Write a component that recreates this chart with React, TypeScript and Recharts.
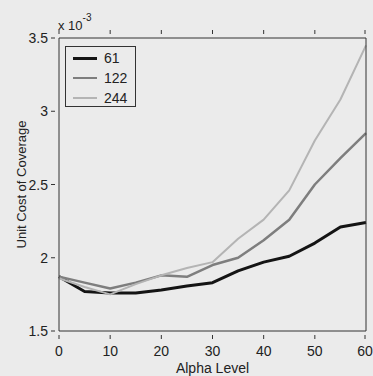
import React from "react";
import { LineChart, Line, XAxis, YAxis, Legend } from "recharts";

const alpha = [0, 5, 10, 15, 20, 25, 30, 35, 40, 45, 50, 55, 60];
const s61 = [1.871, 1.77, 1.76, 1.76, 1.78, 1.807, 1.83, 1.91, 1.97, 2.01, 2.1, 2.21, 2.24];
const s122 = [1.871, 1.83, 1.79, 1.83, 1.88, 1.87, 1.95, 2.0, 2.12, 2.26, 2.5, 2.68, 2.85];
const s244 = [1.86, 1.8, 1.75, 1.82, 1.88, 1.93, 1.97, 2.13, 2.26, 2.46, 2.8, 3.08, 3.45];
const seriesNames = ["61", "122", "244"];
const seriesColors = ["#141414", "#7e7e7e", "#b4b4b4"];
const seriesWidths = [3, 2.5, 2];
const xTicks = [0, 10, 20, 30, 40, 50, 60];
const yTicks = [1.5, 2, 2.5, 3, 3.5];

const data = alpha.map((a, i) => ({ a, s61: s61[i], s122: s122[i], s244: s244[i] }));
const keys = ["s61", "s122", "s244"];

const FONT = "'Liberation Sans', Arial, sans-serif";
const AXIS = "#333";

const BottomTick = (p: any) => {
  const { x, y, payload } = p;
  return (
    <g>
      <line x1={x} x2={x} y1={y} y2={y - 4} stroke={AXIS} strokeWidth={1} />
      <text x={x} y={y + 17} textAnchor="middle" fontSize={14} fill="#222" fontFamily={FONT}>
        {payload.value}
      </text>
    </g>
  );
};
const TopTick = (p: any) => {
  const { x, y } = p;
  return <line x1={x} x2={x} y1={y} y2={y + 4} stroke={AXIS} strokeWidth={1} />;
};
const LeftTick = (p: any) => {
  const { x, y, payload } = p;
  return (
    <g>
      <line x1={x} x2={x + 4} y1={y} y2={y} stroke={AXIS} strokeWidth={1} />
      <text x={x - 3} y={y + 5} textAnchor="end" fontSize={14} fill="#222" fontFamily={FONT}>
        {payload.value}
      </text>
    </g>
  );
};
const RightTick = (p: any) => {
  const { x, y } = p;
  return <line x1={x} x2={x - 4} y1={y} y2={y} stroke={AXIS} strokeWidth={1} />;
};

const LegendBox = () => (
  <div
    style={{
      width: 71,
      height: 61,
      border: "1px solid #333",
      background: "#ebebeb",
      boxSizing: "border-box",
      fontFamily: FONT,
      fontSize: 14,
      color: "#222",
      paddingTop: 1,
    }}
  >
    {seriesNames.map((n, i) => (
      <div key={n} style={{ display: "flex", alignItems: "center", height: 20 }}>
        <div
          style={{
            marginLeft: 7,
            width: 24,
            height: seriesWidths[i],
            background: seriesColors[i],
          }}
        />
        <span style={{ marginLeft: 7 }}>{n}</span>
      </div>
    ))}
  </div>
);

export default function App() {
  return (
    <div style={{ position: "absolute", left: 0, top: 0, width: 373, height: 376, background: "#ebebeb" }}>
      <LineChart width={373} height={376} data={data} margin={{ top: 37, right: 6, bottom: 0, left: 0 }}>
        <XAxis
          xAxisId="b"
          dataKey="a"
          type="number"
          domain={[0, 60]}
          ticks={xTicks}
          height={45}
          stroke={AXIS}
          tickLine={false}
          tick={<BottomTick />}
          label={{ value: "Alpha Level", position: "insideBottom", offset: 3, fontSize: 14, fill: "#222", fontFamily: FONT }}
        />
        <XAxis
          xAxisId="t"
          orientation="top"
          dataKey="a"
          type="number"
          domain={[0, 60]}
          ticks={xTicks}
          height={1}
          stroke={AXIS}
          tickLine={false}
          tick={<TopTick />}
        />
        <YAxis
          yAxisId="l"
          type="number"
          domain={[1.5, 3.5]}
          ticks={yTicks}
          width={59}
          stroke={AXIS}
          tickLine={false}
          tick={<LeftTick />}
          label={{
            value: "Unit Cost of Coverage",
            angle: -90,
            position: "insideLeft",
            offset: 21,
            fontSize: 13,
            fill: "#222",
            fontFamily: FONT,
            style: { textAnchor: "middle" },
          }}
        />
        <YAxis
          yAxisId="r"
          orientation="right"
          type="number"
          domain={[1.5, 3.5]}
          ticks={yTicks}
          width={1}
          stroke={AXIS}
          tickLine={false}
          tick={<RightTick />}
        />
        <text x={58} y={30} fontSize={13} fill="#222" fontFamily={FONT}>
          x 10
          <tspan dy={-9} fontSize={10}>-3</tspan>
        </text>
        <Legend
          layout="horizontal"
          verticalAlign="middle"
          align="center"
          content={<LegendBox />}
          wrapperStyle={{ position: "absolute", left: 65, top: 46, width: 71 }}
        />
        {keys.map((k, i) => (
          <Line
            key={k}
            xAxisId="b"
            yAxisId="l"
            dataKey={k}
            name={seriesNames[i]}
            stroke={seriesColors[i]}
            strokeWidth={seriesWidths[i]}
            dot={false}
            isAnimationActive={false}
            strokeLinejoin="round"
          />
        ))}
      </LineChart>
    </div>
  );
}
